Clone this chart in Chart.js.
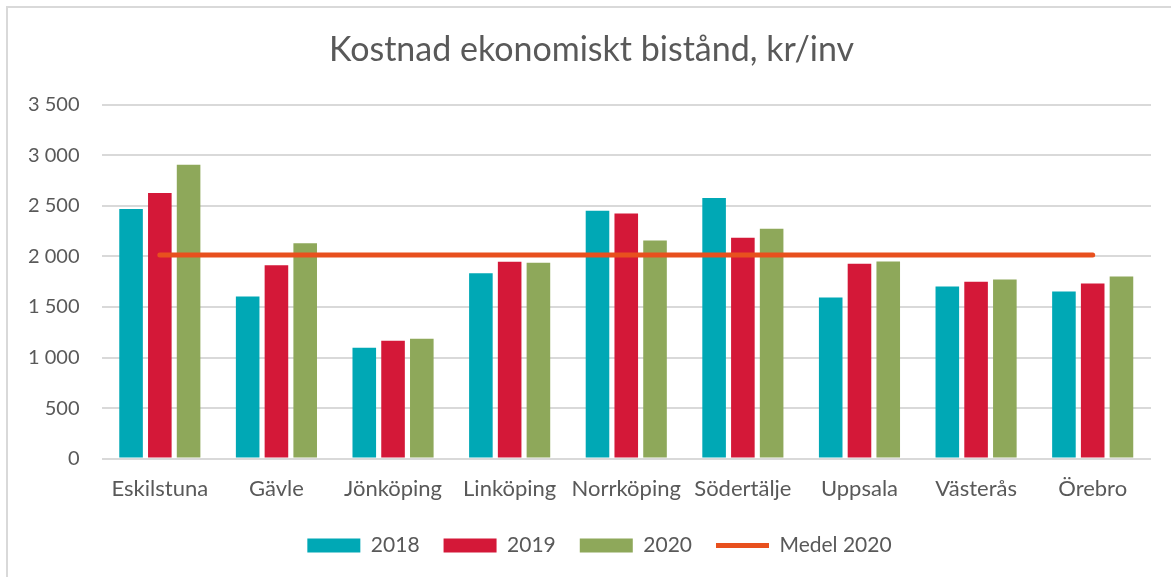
<!DOCTYPE html>
<html>
<head>
<meta charset="utf-8">
<script src="https://cdn.jsdelivr.net/npm/chart.js@4"></script>
<style>
  html, body { margin: 0; padding: 0; background: #fff; }
  #wrap { position: absolute; left: 0; top: 0; width: 1171px; height: 577px; }
  #frame { position: absolute; left: 6px; top: 6px; width: 1165px; height: 571px;
           border-left: 2px solid #d9d9d9; border-top: 2px solid #d9d9d9; box-sizing: border-box; }
  canvas { position: absolute; left: 0; top: 0; }
</style>
</head>
<body>
<div id="wrap">
  <div id="frame"></div>
  <canvas id="c" width="1171" height="577"></canvas>
</div>
<script>
const categories = ["Eskilstuna", "Gävle", "Jönköping", "Linköping", "Norrköping", "Södertälje", "Uppsala", "Västerås", "Örebro"];
const values2018 = [2470, 1604, 1097, 1834, 2451, 2579, 1594, 1703, 1653];
const values2019 = [2628, 1913, 1166, 1947, 2424, 2184, 1927, 1749, 1732];
const values2020 = [2908, 2131, 1186, 1937, 2157, 2273, 1950, 1772, 1801];
const medel2020 = [2013, 2013, 2013, 2013, 2013, 2013, 2013, 2013, 2013];
const yTicks = [0, 500, 1000, 1500, 2000, 2500, 3000, 3500];

const FONT = "Lato, 'Open Sans', sans-serif";
const TXT = "#595959";

const barCommon = { categoryPercentage: 0.74, barPercentage: 0.82, pointStyle: 'rect', order: 1 };

// shift the legend and title sideways to match the reference centring
const boxShift = {
  id: 'boxShift',
  afterLayout(chart) {
    const lg = chart.legend;
    if (lg) { lg.left += 21; lg.right += 21; }
    const tt = chart.titleBlock;
    if (tt) { tt.left += 13; tt.right += 13; }
  }
};

new Chart(document.getElementById('c'), {
  type: 'bar',
  data: {
    labels: categories,
    datasets: [
      Object.assign({ label: '2018', data: values2018, backgroundColor: '#00A8B5' }, barCommon),
      Object.assign({ label: '2019', data: values2019, backgroundColor: '#D41838' }, barCommon),
      Object.assign({ label: '2020', data: values2020, backgroundColor: '#8EA85A' }, barCommon),
      { type: 'line', label: 'Medel 2020', data: medel2020, borderColor: '#E8501E', backgroundColor: '#E8501E',
        borderWidth: 5, borderCapStyle: 'round', pointRadius: 0, pointStyle: 'line', order: 0, fill: false }
    ]
  },
  plugins: [boxShift],
  options: {
    responsive: false,
    animation: false,
    layout: { padding: { left: 6, right: 20, top: 30, bottom: 11 } },
    plugins: {
      title: {
        display: true,
        text: 'Kostnad ekonomiskt bistånd, kr/inv',
        color: TXT,
        font: { family: FONT, size: 34, weight: 'normal' },
        padding: { top: 0, bottom: 34 }
      },
      legend: {
        position: 'bottom',
        labels: {
          color: TXT,
          font: { family: FONT, size: 21 },
          usePointStyle: true,
          pointStyleWidth: 53,
          boxWidth: 53,
          boxHeight: 14,
          padding: 24,
          sort: (a, b) => a.datasetIndex - b.datasetIndex
        }
      },
      tooltip: { enabled: false }
    },
    scales: {
      x: {
        grid: { display: false },
        border: { display: false },
        ticks: { color: TXT, font: { family: FONT, size: 22 }, maxRotation: 0, autoSkip: false, padding: 9 }
      },
      y: {
        min: 0, max: 3500,
        afterBuildTicks: axis => { axis.ticks = yTicks.map(v => ({ value: v })); },
        grid: { color: '#d9d9d9', lineWidth: 2, drawTicks: false },
        border: { display: false },
        ticks: {
          color: TXT, font: { family: FONT, size: 20 }, padding: 22,
          callback: v => String(v).replace(/\B(?=(\d{3})+(?!\d))/g, ' ')
        }
      }
    }
  }
});
</script>
</body>
</html>
